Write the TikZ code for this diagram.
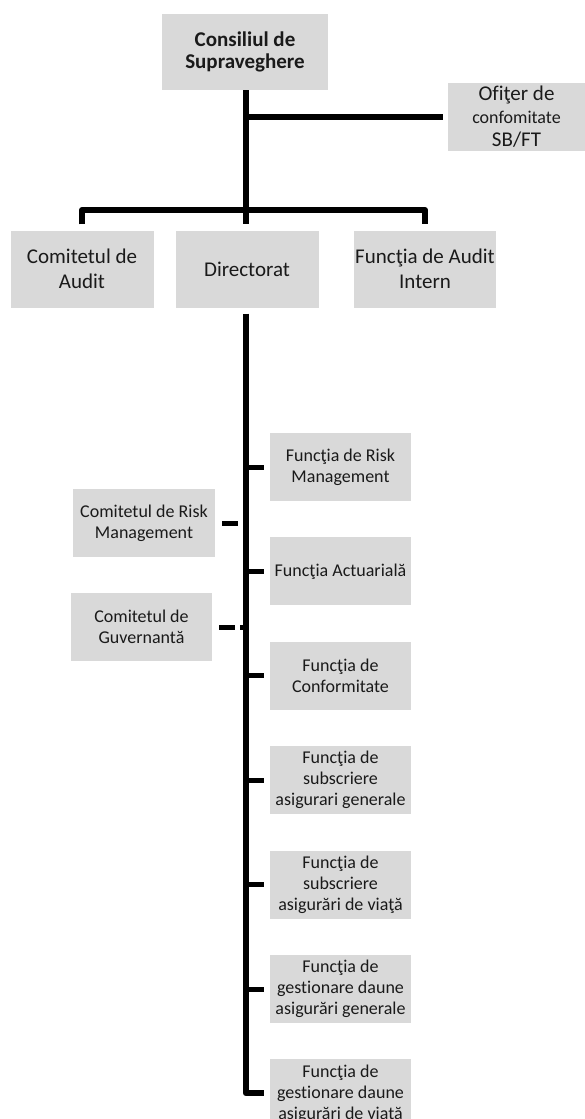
\documentclass[tikz,border=0pt]{standalone}
\usepackage{fontspec}
\setmainfont{Carlito}[Ligatures={NoCommon}]
\usetikzlibrary{positioning}
\definecolor{boxgray}{HTML}{D9D9D9}
\definecolor{textdark}{HTML}{1A1A1A}

\begin{document}
\begin{tikzpicture}[
  x=1pt, y=-1pt,
  node distance=36pt,
  unit/.style={rectangle, fill=boxgray, minimum width=141pt, minimum height=68pt, inner sep=1pt, align=center, text=textdark, font=\fontsize{18}{21}\selectfont},
  topunit/.style={unit, minimum width=143pt, minimum height=77pt, font=\fontsize{21}{25}\selectfont},
  link/.style={line width=6pt, line join=round},
  stub/.style={line width=5pt},
  dashlink/.style={line width=5pt, dash pattern=on 16pt off 5pt}
]
  \useasboundingbox (0,0) rectangle (585,1119);

  % board and direct reports
  \node[topunit, minimum width=166pt, minimum height=76pt, font=\bfseries\fontsize{21}{22}\selectfont] (consiliu) at (245,52) {Consiliul de\\Supraveghere};
  \node[unit, minimum width=137pt, font=\fontsize{21}{23}\selectfont] (ofiter) at (516.5,117) {Ofiţer de\\{\fontsize{18}{21}\selectfont confomitate}\\SB/FT};
  \node[topunit] (comaudit) at (82,269) {Comitetul de\\Audit};
  \node[topunit] (director) at (247,269) {Directorat};
  \node[topunit, minimum width=142pt] (fauditi) at (425,269) {Funcţia de Audit\\Intern};

  % key functions
  \node[unit] (frisk) at (340.5,467) {Funcţia de Risk\\Management};
  \node[unit, below=of frisk] (fact) {Funcţia Actuarială};
  \node[unit, below=of fact] (fconf) {Funcţia de\\Conformitate};
  \node[unit, below=of fconf] (fsubgen) {Funcţia de\\subscriere\\asigurari generale};
  \node[unit, below=of fsubgen] (fsubviata) {Funcţia de\\subscriere\\asigurări de viaţă};
  \node[unit, below=of fsubviata] (fdaunegen) {Funcţia de\\gestionare daune\\asigurări generale};
  \node[unit, below=of fdaunegen] (fdauneviata) {Funcţia de\\gestionare daune\\asigurări de viaţă};

  % committees
  \node[unit, minimum width=142pt] (comrisk) at (144,523) {Comitetul de Risk\\Management};
  \node[unit] (comguv) at (141.5,627) {Comitetul de\\Guvernantă};

  \coordinate (hub) at (246,210);

  \draw[link] (consiliu.south -| hub) -- ([yshift=6pt]director.north -| hub);
  \draw[link] ([yshift=6pt]comaudit.north) |- (hub) -| ([yshift=6pt]fauditi.north);
  \draw[link] (hub |- ofiter) -- ([xshift=-5pt]ofiter.west);
  \draw[link] ([yshift=-6pt]director.south -| hub) |- ([xshift=-6pt]fdauneviata.west);
  \foreach \f in {frisk,fact,fconf,fsubgen,fsubviata,fdaunegen}
    \draw[stub] (hub |- \f.west) -- ([xshift=-6pt]\f.west);
  \draw[dashlink] ([xshift=7pt]comrisk.east) -- (hub |- comrisk.east);
  \draw[dashlink] ([xshift=7pt]comguv.east) -- (hub |- comguv.east);
\end{tikzpicture}
\end{document}
